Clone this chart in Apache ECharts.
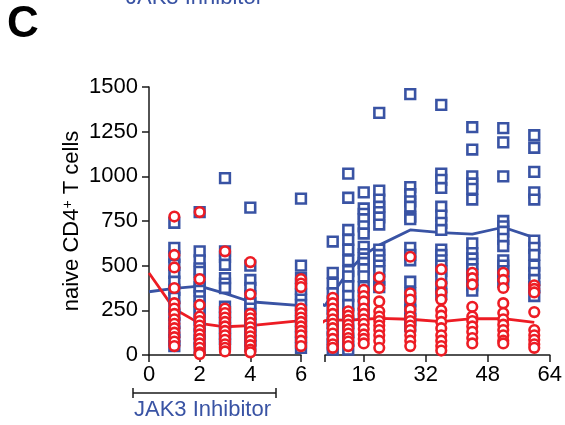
<!DOCTYPE html>
<html>
<head>
<meta charset="utf-8">
<script src="https://cdn.jsdelivr.net/npm/echarts@6/dist/echarts.min.js"></script>
<style>
html,body{margin:0;padding:0;background:#fff;}
#chart{width:565px;height:425px;}
</style>
</head>
<body>
<div id="chart"></div>
<script>
// ---- data ----
const days = [1, 2, 3, 4, 6, 8, 12, 16, 20, 28, 36, 44, 52, 60];

const blueByDay = [
  [740, 600, 550, 505, 460, 410, 365, 320, 270, 225, 180, 130, 85, 50],
  [800, 580, 530, 485, 465, 420, 380, 360, 330, 300, 270, 240, 200, 160, 120, 80, 40],
  [990, 580, 550, 505, 430, 400, 375, 270, 240, 210, 180, 150, 120, 90, 60],
  [825, 500, 420, 375, 330, 290, 260, 230, 200, 170, 140, 110, 80, 50],
  [875, 500, 430, 400, 370, 340, 310, 280, 250, 220, 190, 160, 130, 100, 70, 40],
  [635, 460, 400, 345, 300, 260, 220, 180, 140, 100, 60, 30],
  [1015, 880, 700, 645, 590, 530, 470, 440, 385, 330, 280, 230, 180, 130, 80, 30],
  [910, 820, 790, 760, 720, 680, 605, 565, 540, 515, 480, 440, 380, 330, 280, 230],
  [1355, 920, 870, 830, 800, 770, 730, 590, 560, 530, 500, 470, 420, 380],
  [1460, 940, 900, 860, 830, 775, 760, 600, 560, 530, 410, 345, 300, 250, 200, 160],
  [1400, 1015, 980, 935, 830, 780, 740, 700, 590, 560, 530, 500, 470, 430, 380, 340],
  [1275, 1150, 1000, 960, 930, 870, 625, 570, 540, 510, 480, 450, 420, 390, 360],
  [1270, 1190, 1000, 750, 720, 690, 650, 610, 530, 500, 470, 440, 410],
  [1230, 1160, 1025, 910, 870, 640, 600, 560, 500, 460, 420, 380, 330]
];

const redByDay = [
  [775, 560, 490, 375, 290, 260, 230, 200, 175, 150, 125, 100, 75, 50],
  [800, 425, 280, 215, 190, 165, 140, 115, 90, 65, 40, 15, 5],
  [580, 260, 235, 210, 185, 160, 135, 110, 85, 60, 40, 20],
  [520, 340, 230, 205, 180, 155, 130, 105, 80, 55, 30, 15],
  [425, 400, 380, 260, 235, 210, 185, 160, 135, 110, 80, 50],
  [320, 290, 260, 230, 200, 175, 150, 120, 90, 60, 40],
  [245, 220, 195, 170, 145, 120, 95, 75, 50],
  [365, 330, 300, 260, 230, 200, 175, 145, 115, 90, 65],
  [435, 375, 300, 245, 215, 190, 165, 140, 110, 80, 40],
  [550, 345, 310, 255, 215, 190, 165, 140, 110, 80, 50],
  [480, 400, 350, 310, 250, 220, 185, 150, 110, 80, 50, 25],
  [460, 430, 395, 270, 215, 190, 160, 130, 95, 65],
  [460, 420, 375, 290, 235, 200, 170, 140, 110, 80, 65],
  [390, 370, 350, 240, 140, 110, 85, 60, 40]
];

const meanDays = [0, 1, 2, 3, 4, 6, 8, 12, 16, 20, 28, 36, 44, 52, 60];
const blueMean = [354, 373, 386, 345, 298, 276, 345, 466, 560, 615, 700, 685, 677, 715, 657];
const redMean  = [459, 257, 177, 158, 164, 192, 196, 195, 200, 205, 200, 187, 203, 203, 183];

const yTicks = [0, 250, 500, 750, 1000, 1250, 1500];
const leftXTicks = [0, 2, 4, 6];
const rightXTicks = [16, 32, 48, 64];

// ---- build ----
const BLUE = '#3953a4';
const RED = '#ed1c24';
const FONT = "'Liberation Sans', Arial, Helvetica, sans-serif";

function points(byDay, keep) {
  const out = [];
  days.forEach((d, i) => { if (keep(d)) byDay[i].forEach(v => out.push([d, v])); });
  return out;
}
const meanBlue = meanDays.map((d, i) => [d, blueMean[i]]);
const meanRed = meanDays.map((d, i) => [d, redMean[i]]);

const axisLine = { show: true, lineStyle: { color: '#1a1a1a', width: 1.5 } };
const axisTick = { show: true, inside: false, length: 7, lineStyle: { color: '#1a1a1a', width: 1.5 } };
const labelStyle = { color: '#000', fontFamily: FONT, fontSize: 22, formatter: v => String(v) };

function scatter(idx, data, sym, size, color, z) {
  return {
    type: 'scatter', xAxisIndex: idx, yAxisIndex: idx, data: data,
    symbol: sym, symbolSize: size, z: z,
    itemStyle: { color: '#ffffff', borderColor: color, borderWidth: 2.6, opacity: 1 },
    emphasis: { disabled: true }, animation: false
  };
}
function line(idx, data, color) {
  return {
    type: 'line', xAxisIndex: idx, yAxisIndex: idx, data: data,
    showSymbol: false, symbol: 'none', clip: true, z: 1,
    lineStyle: { color: color, width: 2.8 }, animation: false
  };
}

const chart = echarts.init(document.getElementById('chart'), null, { renderer: 'canvas' });
chart.setOption({
  backgroundColor: '#fff',
  animation: false,
  grid: [
    { left: 149, top: 87, width: 152, height: 268 },
    { left: 325, top: 87, width: 227, height: 268 }
  ],
  xAxis: [
    {
      type: 'value', gridIndex: 0, min: 0, max: 6, interval: 2,
      axisLine: axisLine, axisTick: axisTick, splitLine: { show: false },
      axisLabel: Object.assign({ margin: 9, customValues: leftXTicks }, labelStyle)
    },
    {
      type: 'value', gridIndex: 1, min: 6, max: 64,
      axisLine: axisLine,
      axisTick: Object.assign({ customValues: [6].concat(rightXTicks) }, axisTick),
      splitLine: { show: false },
      axisLabel: Object.assign({ margin: 9, customValues: rightXTicks }, labelStyle)
    }
  ],
  yAxis: [
    {
      type: 'value', gridIndex: 0, min: 0, max: 1500, interval: 250,
      axisLine: axisLine, axisTick: axisTick, splitLine: { show: false },
      axisLabel: Object.assign({ margin: 11, customValues: yTicks }, labelStyle),
      name: '{a|naive CD4}{s|+}{a| T cells}',
      nameLocation: 'middle', nameGap: 66,
      nameTextStyle: {
        fontFamily: FONT, fontSize: 22, color: '#000',
        rich: {
          a: { fontFamily: FONT, fontSize: 22, color: '#000' },
          s: { fontFamily: FONT, fontSize: 14, color: '#000', verticalAlign: 'top' }
        }
      }
    },
    {
      type: 'value', gridIndex: 1, min: 0, max: 1500, show: false
    }
  ],
  series: [
    line(0, meanBlue, BLUE),
    line(0, meanRed, RED),
    scatter(0, points(blueByDay, d => d <= 6), 'rect', 9.7, BLUE, 3),
    scatter(0, points(redByDay, d => d <= 6), 'circle', 9.6, RED, 4),
    line(1, meanBlue, BLUE),
    line(1, meanRed, RED),
    scatter(1, points(blueByDay, d => d > 6), 'rect', 9.7, BLUE, 3),
    scatter(1, points(redByDay, d => d > 6), 'circle', 9.6, RED, 4)
  ],
  graphic: [
    { type: 'text', x: 7, y: 3,
      style: { text: 'C', fontFamily: FONT, fontSize: 44, fontWeight: 'bold', fill: '#000',
        align: 'left', verticalAlign: 'top' } },
    { type: 'text', x: 126, y: -13,
      style: { text: 'JAK3 Inhibitor', fontFamily: FONT, fontSize: 22, fill: BLUE,
        align: 'left', verticalAlign: 'top' } },
    { type: 'line', shape: { x1: 133, y1: 393, x2: 276, y2: 393 },
      style: { stroke: '#1a1a1a', lineWidth: 1.5 } },
    { type: 'line', shape: { x1: 133, y1: 388, x2: 133, y2: 398 },
      style: { stroke: '#1a1a1a', lineWidth: 1.5 } },
    { type: 'line', shape: { x1: 276, y1: 388, x2: 276, y2: 398 },
      style: { stroke: '#1a1a1a', lineWidth: 1.5 } },
    { type: 'text', x: 134, y: 399,
      style: { text: 'JAK3 Inhibitor', fontFamily: FONT, fontSize: 22, fill: BLUE,
        align: 'left', verticalAlign: 'top' } }
  ]
});
</script>
</body>
</html>
